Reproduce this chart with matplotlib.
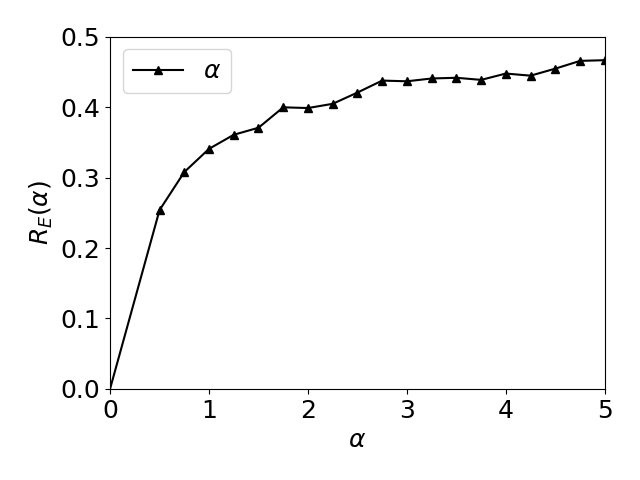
import numpy as np
import matplotlib
matplotlib.use('Agg')
import matplotlib.pyplot as plt

alpha = [0.0, 0.5, 0.75, 1.0, 1.25, 1.5, 1.75, 2.0, 2.25, 2.5, 2.75,
         3.0, 3.25, 3.5, 3.75, 4.0, 4.25, 4.5, 4.75, 5.0]
r_e = [0.0, 0.254, 0.308, 0.341, 0.361, 0.371, 0.400, 0.399, 0.405, 0.421, 0.438,
       0.437, 0.441, 0.442, 0.439, 0.448, 0.445, 0.455, 0.466, 0.467]

plt.rcParams['font.size'] = 18
fig, ax = plt.subplots(figsize=(6.4, 4.8), dpi=100)
ax.plot(alpha, r_e, color='black', marker='^', markersize=6,
        markevery=slice(1, None), label=r'$\alpha$')
ax.set_xlim(0, 5)
ax.set_ylim(0, 0.5)
ax.set_xlabel(r'$\alpha$')
ax.set_ylabel(r'$R_E(\alpha)$')
ax.legend(loc='upper left')
fig.subplots_adjust(left=0.172, right=0.945, top=0.923, bottom=0.19)
fig.savefig('out.png')
